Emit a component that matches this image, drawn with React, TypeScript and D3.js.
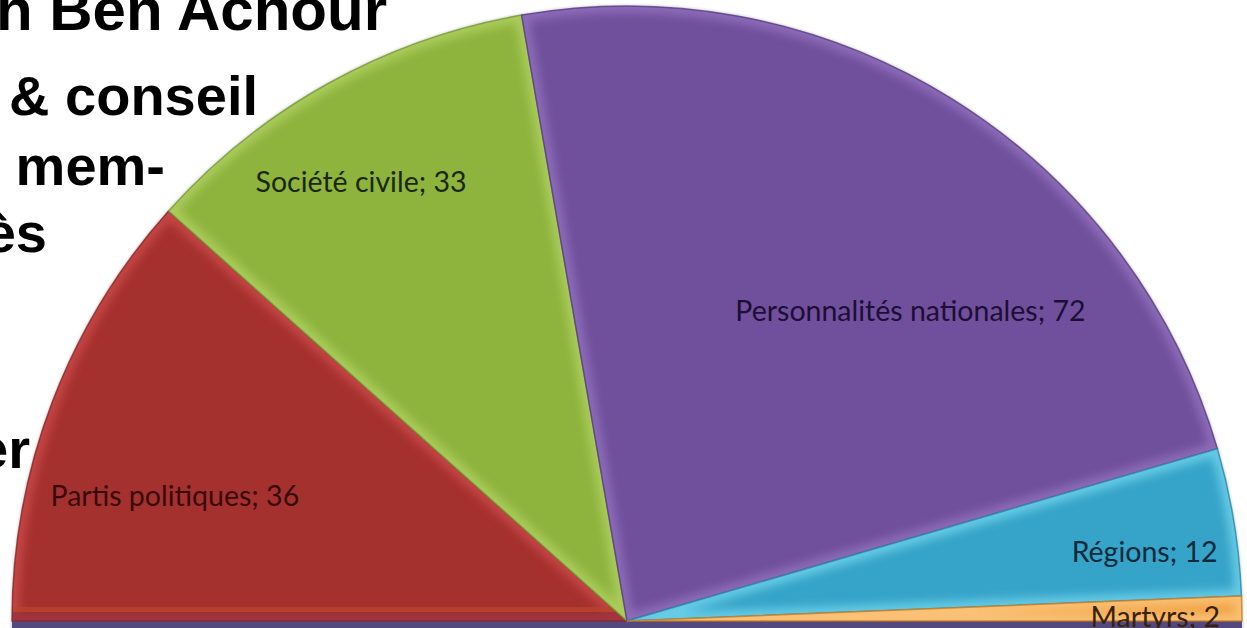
import React from "react";
import * as d3 from "d3";

const categories = ["Partis politiques", "Société civile", "Personnalités nationales", "Régions", "Martyrs"];
const values = [36, 33, 72, 12, 2];
const baseColors = ["#a5312f", "#8fb43e", "#70509c", "#36a3c8", "#f0a040"];
const lightColors = ["#dc5454", "#bcdc70", "#a080cc", "#86e6fa", "#ffd89a"];
const darkColors = ["#8a2528", "#76983a", "#5c3c84", "#2a88aa", "#c87a20"];
const labelColors = ["#380a0c", "#1a280a", "#1c0e36", "#0a2a3a", "#382206"];
// label placement: shift from slice mid-angle (deg) and distance as share of radius
const labelShift = [-5.4, -2.2, 10.5, 1.7, 0.7];
const labelDist = [0.763, 0.834, 0.683, 0.849, 0.859];

const bgLines = ["dh Ben Achour", "& conseil", "mem-", "ès", "er"];
const bgBaselines = [30, 115, 185, 252, 468];
const bgRightEdges = [387, 258, 165, 47, 30];
const bgSizes = [60, 56, 56, 56, 56];

const W = 1247;
const H = 628;
const cx = 627;
const cy = 621;
const R = 615;

export default function App() {
  const pie = d3
    .pie<number>()
    .sort(null)
    .startAngle(-Math.PI / 2)
    .endAngle(Math.PI / 2)
    .value((d) => d);
  const arcs = pie(values);
  const arc = d3.arc<d3.PieArcDatum<number>>().innerRadius(0).outerRadius(R);
  const full = d3.arc<any>().innerRadius(0).outerRadius(R).startAngle(0).endAngle(Math.PI * 2);

  return (
    <svg
      width={W}
      height={H}
      viewBox={`0 0 ${W} ${H}`}
      style={{ position: "absolute", left: 0, top: 0, background: "#ffffff" }}
    >
      <defs>
        <filter id="blur8" x="-10%" y="-10%" width="120%" height="120%">
          <feGaussianBlur stdDeviation="5" />
        </filter>
        <filter id="blur2">
          <feGaussianBlur stdDeviation="1.2" />
        </filter>
        {arcs.map((a, i) => (
          <clipPath id={`clip${i}`} key={`c${i}`}>
            <path d={arc(a) || ""} transform={`translate(${cx},${cy})`} />
          </clipPath>
        ))}
        <clipPath id="clipFull">
          <path d={full({}) || ""} transform={`translate(${cx},${cy})`} />
        </clipPath>
        {arcs.map((a, i) => (
          <radialGradient
            id={`grad${i}`}
            key={`g${i}`}
            gradientUnits="userSpaceOnUse"
            cx={cx}
            cy={cy}
            r={R}
          >
            <stop offset="0%" stopColor={darkColors[i]} />
            <stop offset="55%" stopColor={baseColors[i]} />
            <stop offset="100%" stopColor={baseColors[i]} />
          </radialGradient>
        ))}
      </defs>

      {/* background slide text, partly hidden by the chart */}
      <g fontFamily="'Liberation Sans', Arial, sans-serif" fontWeight="bold" fill="#000">
        {bgLines.map((t, i) => (
          <text key={t} x={bgRightEdges[i]} y={bgBaselines[i]} fontSize={bgSizes[i]} textAnchor="end">
            {t}
          </text>
        ))}
      </g>

      {/* soft outer halo */}
      <path
        d={full({}) || ""}
        transform={`translate(${cx},${cy})`}
        fill="none"
        stroke="#9a9a9a"
        strokeWidth={3}
        opacity={0.35}
        filter="url(#blur2)"
      />

      {/* lower half band (cropped) */}
      <g clipPath="url(#clipFull)">
        <rect x={0} y={cy} width={W} height={H - cy} fill="#54497e" />
      </g>

      {arcs.map((a, i) => (
        <g key={`s${i}`}>
          <path d={arc(a) || ""} transform={`translate(${cx},${cy})`} fill={`url(#grad${i})`} />
          <g clipPath={`url(#clip${i})`}>
            <path
              d={arc(a) || ""}
              transform={`translate(${cx},${cy})`}
              fill="none"
              stroke={lightColors[i]}
              strokeWidth={14}
              opacity={0.6}
              filter="url(#blur8)"
            />
            {i === 0 && (
              <g>
                <rect x={0} y={cy - 14} width={W} height={5} fill="#b8452a" opacity={0.7} />
                <rect x={0} y={cy - 9} width={W} height={9} fill="#8c2a38" opacity={0.6} />
              </g>
            )}
          </g>
          <path
            d={arc(a) || ""}
            transform={`translate(${cx},${cy})`}
            fill="none"
            stroke={darkColors[i]}
            strokeWidth={1.5}
            opacity={0.8}
          />
        </g>
      ))}

      <g fontFamily="Lato, 'Open Sans', sans-serif" fontSize={28.5} textAnchor="middle">
        {arcs.map((a, i) => {
          const mid = (a.startAngle + a.endAngle) / 2 + (labelShift[i] * Math.PI) / 180;
          const d = labelDist[i] * R;
          const x = cx + Math.sin(mid) * d;
          const y = cy - Math.cos(mid) * d;
          return (
            <text key={`l${i}`} x={x} y={y} dy="0.35em" fill={labelColors[i]}>
              {`${categories[i]}; ${values[i]}`}
            </text>
          );
        })}
      </g>
    </svg>
  );
}
